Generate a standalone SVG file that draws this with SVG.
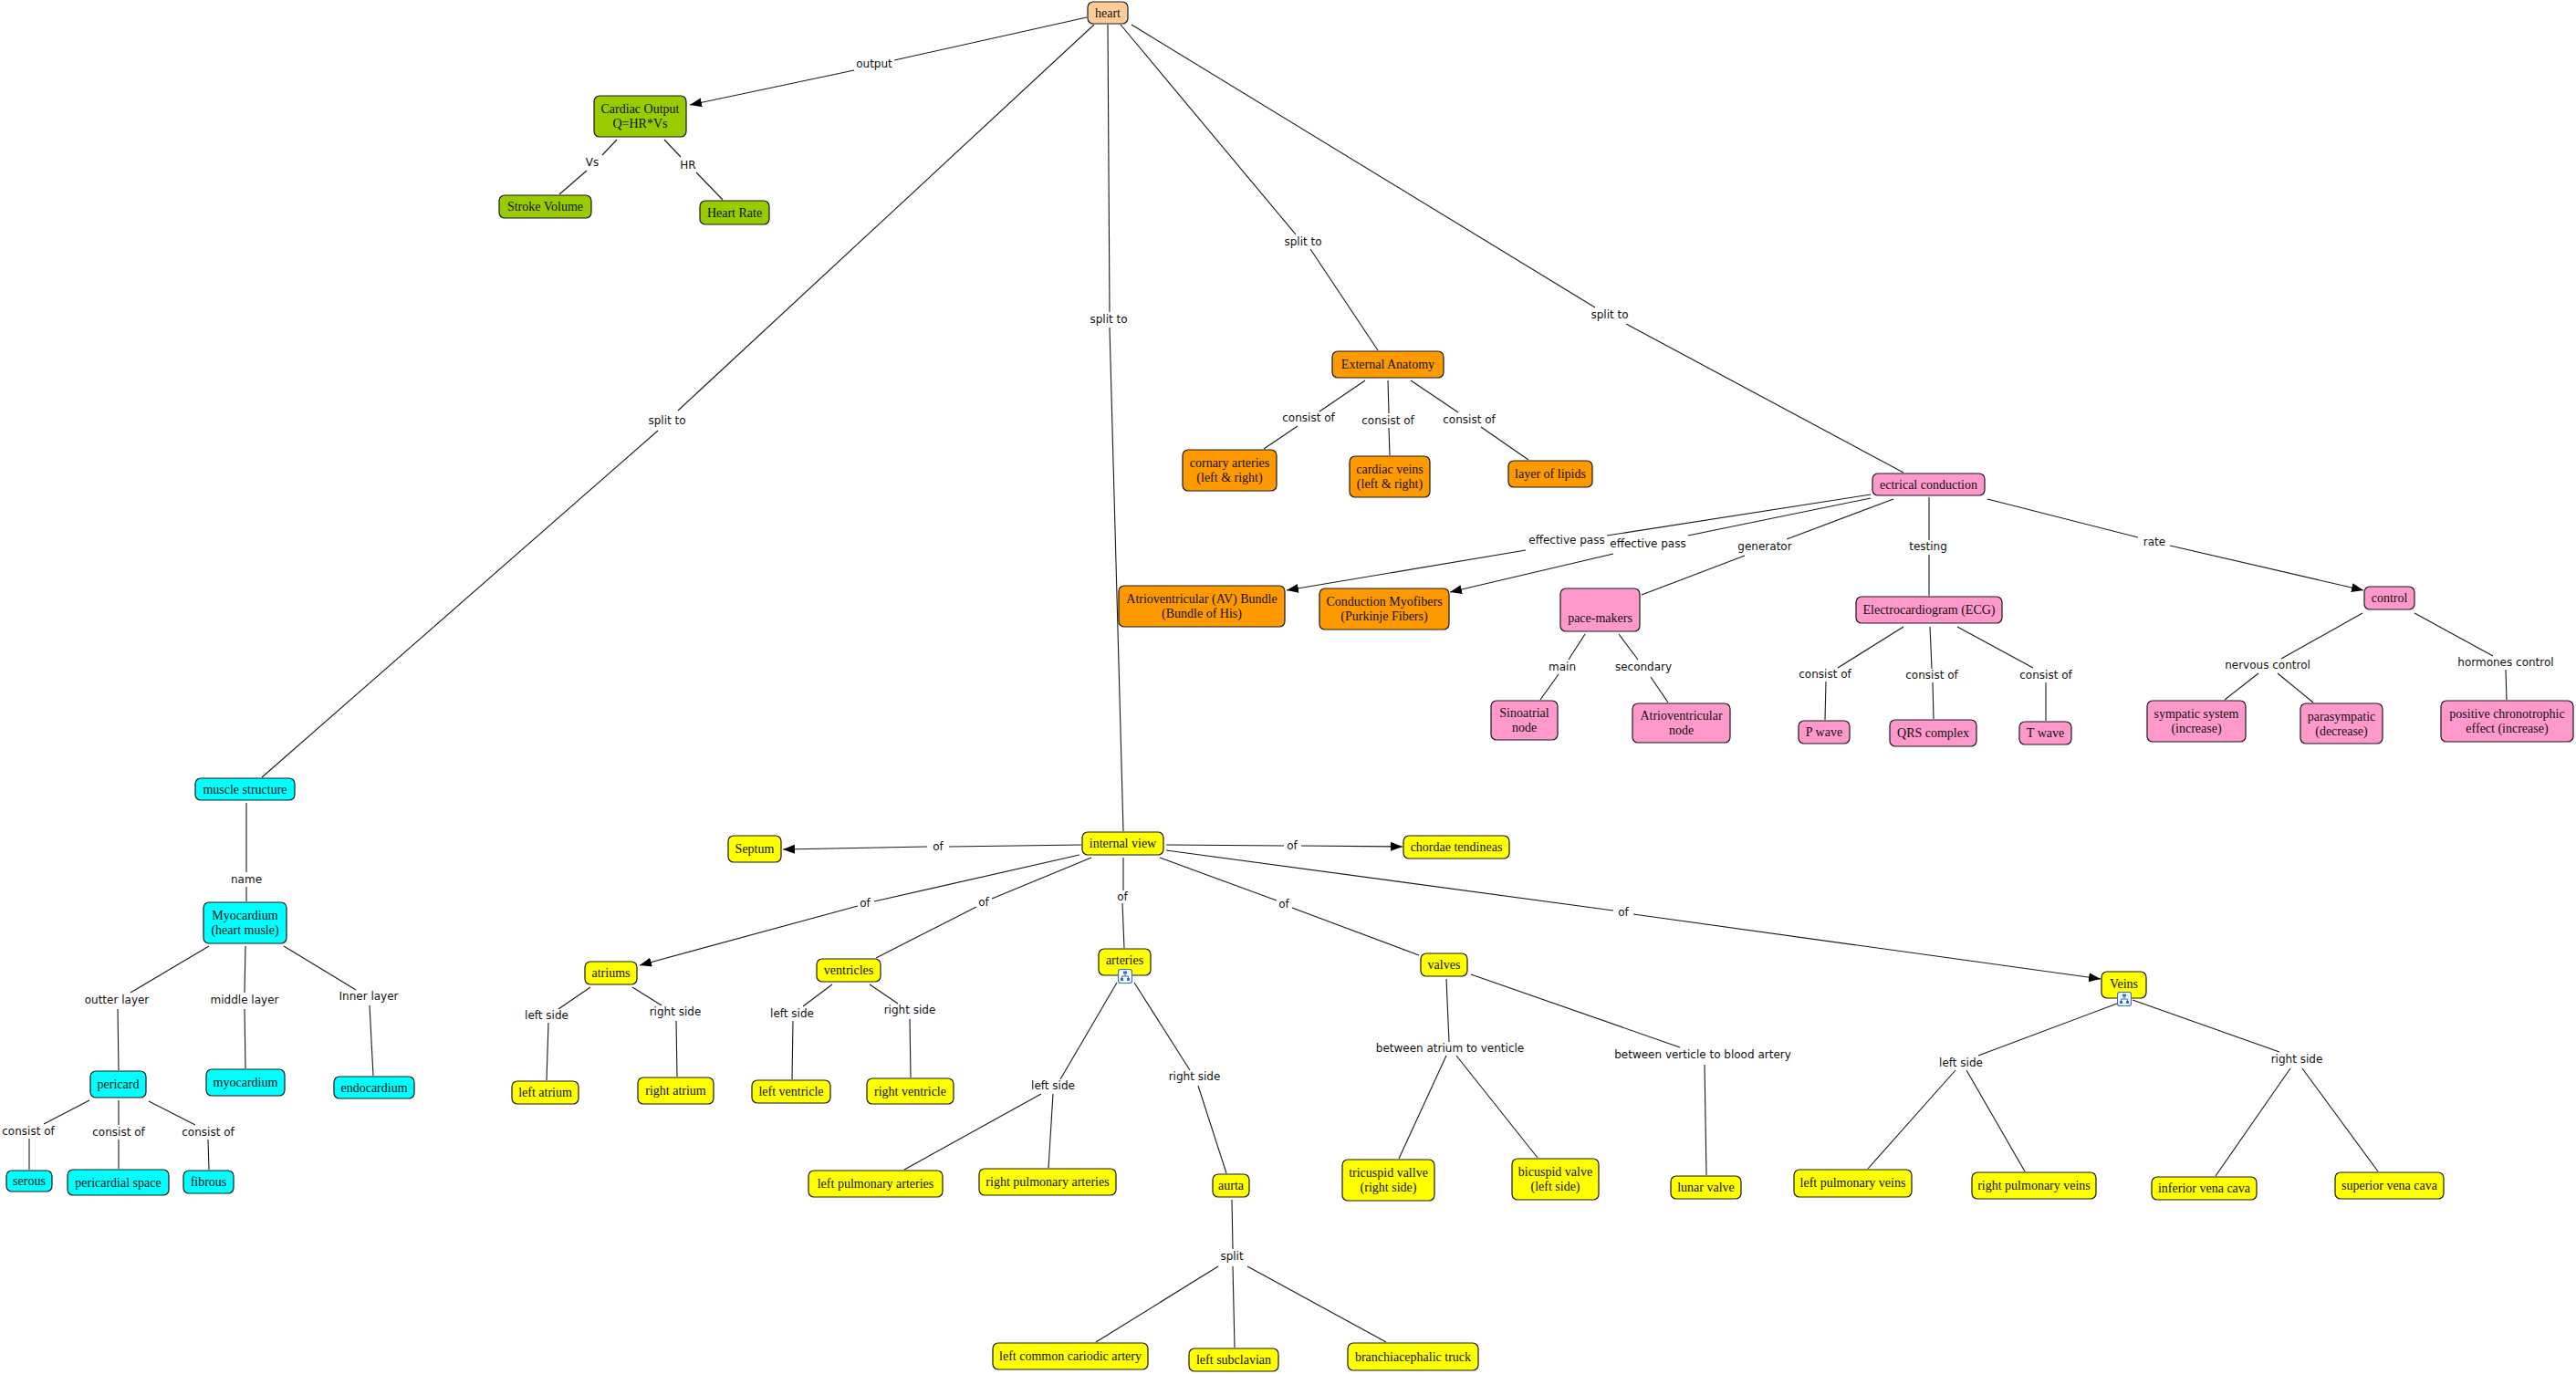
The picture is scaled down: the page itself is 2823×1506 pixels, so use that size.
<svg xmlns="http://www.w3.org/2000/svg" xmlns:xlink="http://www.w3.org/1999/xlink" width="2823" height="1506" viewBox="0 0 2823 1506">
<style>
.n rect{stroke:#1a1a1a;stroke-width:1.2}
.n text{font-family:"Liberation Serif","Times New Roman",serif;font-size:14px;fill:#111;text-anchor:middle}
.pe rect{fill:#FFCC99}
.gr rect{fill:#99CC00}
.or rect{fill:#FF9900}
.pk rect{fill:#FF99CC}
.cy rect{fill:#00FFFF}
.ye rect{fill:#FFFF00}
#links line{stroke:#1a1a1a;stroke-width:1.1;fill:none}
#links .a{marker-end:url(#arr)}
#labels text{font-family:"DejaVu Sans",Verdana,sans-serif;font-size:12px;fill:#111;text-anchor:middle}
</style>
<defs>
<marker id="arr" markerUnits="userSpaceOnUse" markerWidth="14" markerHeight="12" refX="13" refY="5" orient="auto">
<path d="M0,0 L13,5 L0,10 z" fill="#000"/>
</marker>
<symbol id="ico" viewBox="0 0 16 16">
<rect x="0.5" y="0.5" width="15" height="15" rx="2.5" fill="#f4f8ff" stroke="#3a6fc8" stroke-width="1.2"/>
<rect x="6" y="2.5" width="4" height="3" fill="#3a6fc8"/>
<path d="M8 5.5 V8 M4.5 8 H11.5 M4.5 8 V10 M11.5 8 V10" stroke="#3a6fc8" stroke-width="1" fill="none"/>
<rect x="3" y="10" width="3" height="3" fill="#3a6fc8"/>
<rect x="10" y="10" width="3" height="3" fill="#3a6fc8"/>
</symbol>
</defs>
<rect width="2823" height="1506" fill="#fff"/>
<g id="links">
<line x1="1191" y1="19" x2="980" y2="66"/><line class="a" x1="936" y1="77" x2="756" y2="115"/>
<line x1="676" y1="153" x2="660" y2="170"/><line x1="643" y1="187" x2="613" y2="213"/>
<line x1="728" y1="153" x2="746" y2="172"/><line x1="763" y1="189" x2="792" y2="219"/>
<line x1="1199" y1="27" x2="743" y2="450"/><line x1="721" y1="472" x2="287" y2="852"/>
<line x1="1214" y1="27" x2="1216" y2="342"/><line x1="1216" y1="359" x2="1231" y2="911"/>
<line x1="1228" y1="27" x2="1420" y2="257"/><line x1="1436" y1="273" x2="1510" y2="384"/>
<line x1="1240" y1="27" x2="1748" y2="337"/><line x1="1782" y1="355" x2="2086" y2="518"/>
<line x1="1496" y1="417" x2="1446" y2="451"/><line x1="1422" y1="467" x2="1385" y2="492"/>
<line x1="1521" y1="417" x2="1522" y2="453"/><line x1="1522" y1="469" x2="1523" y2="499"/>
<line x1="1546" y1="417" x2="1598" y2="452"/><line x1="1623" y1="468" x2="1675" y2="504"/>
<line x1="2050" y1="542" x2="1761" y2="587"/><line class="a" x1="1672" y1="603" x2="1410" y2="647"/>
<line x1="2050" y1="546" x2="1850" y2="587"/><line class="a" x1="1768" y1="607" x2="1589" y2="649"/>
<line x1="2075" y1="547" x2="1958" y2="591"/><line x1="1912" y1="609" x2="1799" y2="652"/>
<line x1="2114" y1="545" x2="2114" y2="592"/><line x1="2114" y1="608" x2="2114" y2="653"/>
<line x1="2178" y1="547" x2="2343" y2="589"/><line class="a" x1="2378" y1="598" x2="2590" y2="647"/>
<line x1="1737" y1="695" x2="1719" y2="723"/><line x1="1708" y1="739" x2="1688" y2="767"/>
<line x1="1774" y1="695" x2="1795" y2="723"/><line x1="1809" y1="742" x2="1828" y2="770"/>
<line x1="2086" y1="687" x2="2014" y2="732"/><line x1="2001" y1="747" x2="2000" y2="789"/>
<line x1="2115" y1="687" x2="2117" y2="733"/><line x1="2118" y1="748" x2="2119" y2="788"/>
<line x1="2145" y1="687" x2="2228" y2="732"/><line x1="2242" y1="748" x2="2242" y2="790"/>
<line x1="2589" y1="672" x2="2500" y2="722"/><line x1="2475" y1="738" x2="2438" y2="767"/><line x1="2496" y1="738" x2="2535" y2="770"/>
<line x1="2646" y1="672" x2="2732" y2="719"/><line x1="2746" y1="734" x2="2747" y2="767"/>
<line x1="270" y1="880" x2="270" y2="956"/><line x1="270" y1="972" x2="270" y2="988"/>
<line x1="229" y1="1037" x2="143" y2="1088"/><line x1="129" y1="1106" x2="130" y2="1173"/>
<line x1="269" y1="1037" x2="268" y2="1088"/><line x1="268" y1="1106" x2="269" y2="1171"/>
<line x1="311" y1="1037" x2="390" y2="1085"/><line x1="405" y1="1102" x2="409" y2="1179"/>
<line x1="98" y1="1206" x2="48" y2="1232"/><line x1="32" y1="1248" x2="32" y2="1282"/>
<line x1="130" y1="1206" x2="130" y2="1233"/><line x1="130" y1="1249" x2="130" y2="1281"/>
<line x1="163" y1="1207" x2="214" y2="1233"/><line x1="228" y1="1249" x2="229" y2="1282"/>
<line x1="1185" y1="926" x2="1040" y2="928"/><line class="a" x1="1016" y1="928" x2="858" y2="931"/>
<line x1="1278" y1="926" x2="1407" y2="927"/><line class="a" x1="1426" y1="927" x2="1537" y2="928"/>
<line x1="1183" y1="937" x2="958" y2="988"/><line class="a" x1="940" y1="993" x2="701" y2="1058"/>
<line x1="1196" y1="940" x2="1087" y2="985"/><line x1="1070" y1="994" x2="960" y2="1050"/>
<line x1="1231" y1="940" x2="1231" y2="976"/><line x1="1230" y1="990" x2="1232" y2="1039"/>
<line x1="1271" y1="940" x2="1399" y2="987"/><line x1="1416" y1="995" x2="1555" y2="1047"/>
<line x1="1278" y1="932" x2="1768" y2="998"/><line class="a" x1="1790" y1="1002" x2="2302" y2="1073"/>
<line x1="912" y1="1079" x2="880" y2="1103"/><line x1="869" y1="1119" x2="868" y2="1183"/>
<line x1="953" y1="1079" x2="984" y2="1100"/><line x1="997" y1="1117" x2="998" y2="1181"/>
<line x1="647" y1="1082" x2="612" y2="1106"/><line x1="601" y1="1121" x2="599" y2="1184"/>
<line x1="693" y1="1082" x2="725" y2="1102"/><line x1="741" y1="1119" x2="742" y2="1180"/>
<line x1="1224" y1="1077" x2="1162" y2="1183"/><line x1="1141" y1="1199" x2="991" y2="1282"/><line x1="1154" y1="1199" x2="1149" y2="1280"/>
<line x1="1243" y1="1077" x2="1304" y2="1173"/><line x1="1313" y1="1190" x2="1344" y2="1286"/>
<line x1="1350" y1="1315" x2="1351" y2="1369"/><line x1="1335" y1="1388" x2="1201" y2="1471"/><line x1="1351" y1="1388" x2="1353" y2="1477"/><line x1="1367" y1="1388" x2="1519" y2="1471"/>
<line x1="1585" y1="1073" x2="1588" y2="1142"/><line x1="1585" y1="1157" x2="1533" y2="1270"/><line x1="1596" y1="1157" x2="1685" y2="1269"/>
<line x1="1612" y1="1068" x2="1841" y2="1148"/><line x1="1868" y1="1167" x2="1870" y2="1288"/>
<line x1="2320" y1="1100" x2="2168" y2="1157"/><line x1="2143" y1="1173" x2="2047" y2="1281"/><line x1="2155" y1="1173" x2="2219" y2="1284"/>
<line x1="2337" y1="1096" x2="2498" y2="1153"/><line x1="2510" y1="1171" x2="2428" y2="1289"/><line x1="2523" y1="1171" x2="2606" y2="1284"/>
</g>
<g id="labels">
<text x="958" y="74">output</text>
<text x="649" y="182">Vs</text>
<text x="754" y="185">HR</text>
<text x="731" y="465">split to</text>
<text x="1215" y="354">split to</text>
<text x="1428" y="269">split to</text>
<text x="1764" y="349">split to</text>
<text x="1434" y="462">consist of</text>
<text x="1521" y="465">consist of</text>
<text x="1610" y="464">consist of</text>
<text x="1717" y="596">effective pass</text>
<text x="1806" y="600">effective pass</text>
<text x="1934" y="603">generator</text>
<text x="2113" y="603">testing</text>
<text x="2361" y="598">rate</text>
<text x="1712" y="735">main</text>
<text x="1801" y="735">secondary</text>
<text x="2000" y="743">consist of</text>
<text x="2117" y="744">consist of</text>
<text x="2242" y="744">consist of</text>
<text x="2485" y="733">nervous control</text>
<text x="2746" y="730">hormones control</text>
<text x="270" y="968">name</text>
<text x="128" y="1100">outter layer</text>
<text x="268" y="1100">middle layer</text>
<text x="404" y="1096">Inner layer</text>
<text x="31" y="1244">consist of</text>
<text x="130" y="1245">consist of</text>
<text x="228" y="1245">consist of</text>
<text x="1028" y="932">of</text>
<text x="1416" y="931">of</text>
<text x="948" y="994">of</text>
<text x="1078" y="993">of</text>
<text x="1230" y="987">of</text>
<text x="1407" y="995">of</text>
<text x="1779" y="1004">of</text>
<text x="599" y="1117">left side</text>
<text x="740" y="1113">right side</text>
<text x="868" y="1115">left side</text>
<text x="997" y="1111">right side</text>
<text x="1154" y="1194">left side</text>
<text x="1309" y="1184">right side</text>
<text x="1350" y="1381">split</text>
<text x="1589" y="1153">between atrium to venticle</text>
<text x="1866" y="1160">between verticle to blood artery</text>
<text x="2149" y="1169">left side</text>
<text x="2517" y="1165">right side</text>
</g>
<g id="n-heart" class="n pe"><rect x="1192" y="2" width="44" height="24" rx="6"/><text x="1214" y="19">heart</text></g>
<g id="n-cardiac-output" class="n gr"><rect x="651" y="105" width="101" height="45" rx="6"/><text x="701.5" y="124">Cardiac Output</text><text x="701.5" y="140">Q=HR*Vs</text></g>
<g id="n-stroke-volume" class="n gr"><rect x="547" y="214" width="101" height="25" rx="6"/><text x="597.5" y="231">Stroke Volume</text></g>
<g id="n-heart-rate" class="n gr"><rect x="767" y="220" width="76" height="26" rx="6"/><text x="805" y="238">Heart Rate</text></g>
<g id="n-external-anatomy" class="n or"><rect x="1460" y="385" width="122" height="29" rx="6"/><text x="1521" y="404">External Anatomy</text></g>
<g id="n-cornary" class="n or"><rect x="1296" y="493" width="103" height="45" rx="6"/><text x="1347.5" y="512">cornary arteries</text><text x="1347.5" y="528">(left &amp; right)</text></g>
<g id="n-cardiac-veins" class="n or"><rect x="1479" y="500" width="88" height="45" rx="6"/><text x="1523" y="519">cardiac veins</text><text x="1523" y="535">(left &amp; right)</text></g>
<g id="n-lipids" class="n or"><rect x="1653" y="505" width="92" height="29" rx="6"/><text x="1699" y="524">layer of lipids</text></g>
<g id="n-ectrical" class="n pk"><rect x="2052" y="519" width="123" height="24" rx="6"/><text x="2113.5" y="536">ectrical conduction</text></g>
<g id="n-av-bundle" class="n or"><rect x="1226" y="642" width="182" height="45" rx="6"/><text x="1317" y="661">Atrioventricular (AV) Bundle</text><text x="1317" y="677">(Bundle of His)</text></g>
<g id="n-purkinje" class="n or"><rect x="1446" y="645" width="142" height="45" rx="6"/><text x="1517" y="664">Conduction Myofibers</text><text x="1517" y="680">(Purkinje Fibers)</text></g>
<g id="n-pace-makers" class="n pk"><rect x="1710" y="645" width="87" height="47" rx="6"/><text x="1753.5" y="682">pace-makers</text></g>
<g id="n-sinoatrial" class="n pk"><rect x="1634" y="768" width="73" height="43" rx="6"/><text x="1670.5" y="786">Sinoatrial</text><text x="1670.5" y="802">node</text></g>
<g id="n-av-node" class="n pk"><rect x="1789" y="771" width="107" height="43" rx="6"/><text x="1842.5" y="789">Atrioventricular</text><text x="1842.5" y="805">node</text></g>
<g id="n-ecg" class="n pk"><rect x="2034" y="654" width="160" height="29" rx="6"/><text x="2114" y="673">Electrocardiogram (ECG)</text></g>
<g id="n-p-wave" class="n pk"><rect x="1971" y="790" width="56" height="25" rx="6"/><text x="1999" y="807">P wave</text></g>
<g id="n-qrs" class="n pk"><rect x="2071" y="789" width="95" height="29" rx="6"/><text x="2118.5" y="808">QRS complex</text></g>
<g id="n-t-wave" class="n pk"><rect x="2213" y="791" width="57" height="25" rx="6"/><text x="2241.5" y="808">T wave</text></g>
<g id="n-control" class="n pk"><rect x="2591" y="643" width="55" height="25" rx="6"/><text x="2618.5" y="660">control</text></g>
<g id="n-sympatic" class="n pk"><rect x="2353" y="768" width="108" height="45" rx="6"/><text x="2407" y="787">sympatic system</text><text x="2407" y="803">(increase)</text></g>
<g id="n-parasympatic" class="n pk"><rect x="2521" y="771" width="90" height="44" rx="6"/><text x="2566" y="790">parasympatic</text><text x="2566" y="806">(decrease)</text></g>
<g id="n-positive" class="n pk"><rect x="2675" y="768" width="145" height="45" rx="6"/><text x="2747.5" y="787">positive chronotrophic</text><text x="2747.5" y="803">effect (increase)</text></g>
<g id="n-muscle-structure" class="n cy"><rect x="214" y="853" width="109" height="24" rx="6"/><text x="268.5" y="870">muscle structure</text></g>
<g id="n-myocardium-heart" class="n cy"><rect x="223" y="989" width="91" height="45" rx="6"/><text x="268.5" y="1008">Myocardium</text><text x="268.5" y="1024">(heart musle)</text></g>
<g id="n-pericard" class="n cy"><rect x="99" y="1174" width="61" height="29" rx="6"/><text x="129.5" y="1193">pericard</text></g>
<g id="n-myocardium" class="n cy"><rect x="226" y="1172" width="86" height="29" rx="6"/><text x="269" y="1191">myocardium</text></g>
<g id="n-endocardium" class="n cy"><rect x="366" y="1180" width="88" height="24" rx="6"/><text x="410" y="1197">endocardium</text></g>
<g id="n-serous" class="n cy"><rect x="7" y="1283" width="50" height="23" rx="6"/><text x="32" y="1299">serous</text></g>
<g id="n-pericardial-space" class="n cy"><rect x="74" y="1282" width="111" height="28" rx="6"/><text x="129.5" y="1301">pericardial space</text></g>
<g id="n-fibrous" class="n cy"><rect x="201" y="1283" width="55" height="25" rx="6"/><text x="228.5" y="1300">fibrous</text></g>
<g id="n-internal-view" class="n ye"><rect x="1186" y="912" width="89" height="25" rx="6"/><text x="1230.5" y="929">internal view</text></g>
<g id="n-septum" class="n ye"><rect x="798" y="916" width="58" height="29" rx="6"/><text x="827" y="935">Septum</text></g>
<g id="n-chordae" class="n ye"><rect x="1538" y="916" width="116" height="25" rx="6"/><text x="1596" y="933">chordae tendineas</text></g>
<g id="n-atriums" class="n ye"><rect x="641" y="1054" width="57" height="25" rx="6"/><text x="669.5" y="1071">atriums</text></g>
<g id="n-ventricles" class="n ye"><rect x="895" y="1051" width="70" height="25" rx="6"/><text x="930" y="1068">ventricles</text></g>
<g id="n-arteries" class="n ye"><rect x="1204" y="1040" width="57" height="29" rx="6"/><text x="1232.5" y="1057">arteries</text><use xlink:href="#ico" href="#ico" x="1225" y="1062" width="16" height="16"/></g>
<g id="n-valves" class="n ye"><rect x="1557" y="1045" width="51" height="25" rx="6"/><text x="1582.5" y="1062">valves</text></g>
<g id="n-veins" class="n ye"><rect x="2303" y="1065" width="49" height="29" rx="6"/><text x="2327.5" y="1083">Veins</text><use xlink:href="#ico" href="#ico" x="2320" y="1087" width="16" height="16"/></g>
<g id="n-left-atrium" class="n ye"><rect x="561" y="1185" width="73" height="25" rx="6"/><text x="597.5" y="1202">left atrium</text></g>
<g id="n-right-atrium" class="n ye"><rect x="699" y="1181" width="83" height="29" rx="6"/><text x="740.5" y="1200">right atrium</text></g>
<g id="n-left-ventricle" class="n ye"><rect x="824" y="1184" width="86" height="25" rx="6"/><text x="867" y="1201">left ventricle</text></g>
<g id="n-right-ventricle" class="n ye"><rect x="950" y="1182" width="95" height="28" rx="6"/><text x="997.5" y="1201">right ventricle</text></g>
<g id="n-left-pulm-arteries" class="n ye"><rect x="886" y="1283" width="147" height="29" rx="6"/><text x="959.5" y="1302">left pulmonary arteries</text></g>
<g id="n-right-pulm-arteries" class="n ye"><rect x="1073" y="1281" width="150" height="29" rx="6"/><text x="1148" y="1300">right pulmonary arteries</text></g>
<g id="n-aurta" class="n ye"><rect x="1329" y="1287" width="40" height="25" rx="6"/><text x="1349" y="1304">aurta</text></g>
<g id="n-tricuspid" class="n ye"><rect x="1471" y="1271" width="101" height="45" rx="6"/><text x="1521.5" y="1290">tricuspid vallve</text><text x="1521.5" y="1306">(right side)</text></g>
<g id="n-bicuspid" class="n ye"><rect x="1657" y="1270" width="95" height="45" rx="6"/><text x="1704.5" y="1289">bicuspid valve</text><text x="1704.5" y="1305">(left side)</text></g>
<g id="n-lunar" class="n ye"><rect x="1831" y="1289" width="77" height="25" rx="6"/><text x="1869.5" y="1306">lunar valve</text></g>
<g id="n-left-pulm-veins" class="n ye"><rect x="1966" y="1282" width="129" height="30" rx="6"/><text x="2030.5" y="1301">left pulmonary veins</text></g>
<g id="n-right-pulm-veins" class="n ye"><rect x="2161" y="1285" width="136" height="29" rx="6"/><text x="2229" y="1304">right pulmonary veins</text></g>
<g id="n-inferior" class="n ye"><rect x="2358" y="1290" width="115" height="25" rx="6"/><text x="2415.5" y="1307">inferior vena cava</text></g>
<g id="n-superior" class="n ye"><rect x="2559" y="1285" width="119" height="29" rx="6"/><text x="2618.5" y="1304">superior vena cava</text></g>
<g id="n-left-common" class="n ye"><rect x="1088" y="1472" width="170" height="29" rx="6"/><text x="1173" y="1491">left common cariodic artery</text></g>
<g id="n-left-subclavian" class="n ye"><rect x="1303" y="1478" width="98" height="25" rx="6"/><text x="1352" y="1495">left subclavian</text></g>
<g id="n-branchiacephalic" class="n ye"><rect x="1477" y="1472" width="143" height="30" rx="6"/><text x="1548.5" y="1492">branchiacephalic truck</text></g>
</svg>
